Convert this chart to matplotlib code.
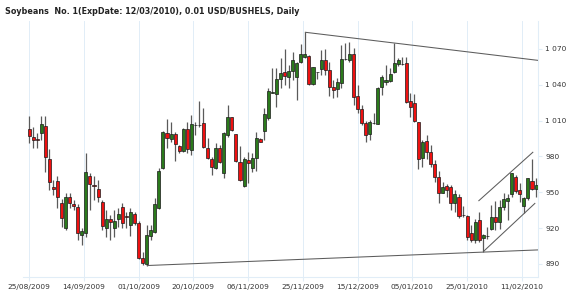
import numpy as np
import matplotlib
matplotlib.use("Agg")
import matplotlib.pyplot as plt

# daily bars (bar index 0 = 25/08/2009)
opens = [1002.7, 996.6, 994.7, 999.4, 1005.5, 977.9, 954.2, 959.2, 940.8, 920.4,
         946.4, 940.0, 937.5, 914.3, 915.7, 963.7, 956.2, 953.1, 941.6, 920.4,
         927.7, 919.9, 927.9, 938.0, 930.0, 922.7, 931.6, 924.1, 894.8, 889.8,
         913.5, 916.6, 936.6, 970.1, 999.4, 994.4, 998.6, 988.8, 984.6, 1002.8,
         985.5, 1006.4, 1006.4, 1007.8, 987.4, 977.7, 970.1, 986.9, 965.9, 998.0,
         1012.8, 998.6, 975.7, 955.6, 977.1, 970.7, 978.5, 994.4, 1001.4, 1012.0,
         1033.5, 1032.1, 1044.6, 1051.0, 1046.3, 1051.9, 1046.3, 1058.8, 1063.6, 1064.1,
         1040.7, 1050.5, 1053.0, 1060.8, 1052.4, 1037.9, 1036.5, 1041.3, 1061.6, 1060.8,
         1065.8, 1031.0, 1019.5, 1007.8, 998.6, 1007.8, 1007.3, 1037.9, 1042.1, 1043.2,
         1050.5, 1057.2, 1057.2, 1058.0, 1026.5, 1024.5, 1008.6, 978.5, 993.3, 983.5,
         974.0, 963.1, 949.7, 955.3, 954.8, 941.4, 946.4, 931.1, 930.2, 915.7,
         910.1, 926.9, 911.5, 913.5, 919.1, 929.1, 925.5, 938.0, 942.8, 948.6,
         963.1, 952.0, 938.6, 945.0, 959.8, 952.5]
highs = [1014.2, 1004.4, 999.4, 1014.2, 1014.2, 986.0, 960.3, 963.7, 944.2, 949.2,
         949.2, 943.6, 940.2, 919.9, 983.2, 965.9, 963.7, 960.3, 943.6, 935.2,
         931.0, 935.2, 936.6, 941.0, 933.9, 937.2, 933.3, 926.0, 900.4, 922.7,
         922.7, 945.0, 970.1, 1001.5, 1011.1, 1009.2, 1000.8, 989.7, 1003.6, 1009.2,
         1014.8, 1009.2, 1026.5, 1020.3, 995.2, 979.9, 991.1, 989.7, 1000.8, 1023.1,
         1013.4, 999.0, 989.1, 979.9, 984.1, 982.7, 1000.8, 995.8, 1020.3, 1037.1,
         1054.4, 1054.4, 1062.2, 1070.0, 1056.6, 1067.8, 1059.4, 1073.9, 1084.0, 1065.0,
         1055.2, 1051.0, 1069.2, 1070.0, 1059.4, 1044.1, 1045.5, 1073.4, 1074.8, 1076.2,
         1070.6, 1039.9, 1023.1, 1009.7, 1010.6, 1016.2, 1038.5, 1048.3, 1056.6, 1053.8,
         1074.8, 1062.8, 1063.6, 1063.0, 1032.9, 1032.4, 1009.2, 993.9, 998.0, 989.7,
         977.1, 968.0, 958.9, 956.7, 956.2, 952.0, 948.3, 938.6, 931.1, 922.7,
         927.4, 933.8, 915.2, 921.0, 939.4, 943.0, 943.6, 949.2, 948.6, 966.5,
         964.5, 957.6, 946.4, 962.3, 978.0, 961.7]
lows = [991.6, 986.8, 986.8, 993.8, 967.3, 952.0, 947.8, 936.6, 921.3, 918.5,
        936.6, 935.2, 910.1, 905.9, 912.9, 935.2, 943.6, 942.2, 918.5, 912.9,
        910.1, 912.3, 921.3, 920.0, 919.9, 913.8, 922.7, 894.5, 889.2, 888.7,
        910.1, 915.7, 936.1, 969.6, 986.9, 992.5, 976.3, 982.7, 983.5, 982.7,
        981.3, 998.0, 1005.0, 986.9, 977.7, 964.6, 969.6, 974.3, 961.8, 996.6,
        1001.0, 975.7, 959.5, 954.8, 957.6, 967.3, 967.9, 991.9, 993.8, 1010.6,
        1032.9, 1021.7, 1037.1, 1039.9, 1037.6, 1044.1, 1027.3, 1058.0, 1062.8, 1039.9,
        1039.9, 1045.0, 1048.3, 1048.0, 1031.0, 1028.7, 1030.1, 1037.1, 1060.8, 1059.4,
        1023.1, 1016.2, 1006.4, 992.5, 993.8, 1007.0, 1007.0, 1031.5, 1040.0, 1042.7,
        1049.6, 1056.0, 1056.6, 1024.5, 1013.4, 1009.2, 969.4, 971.5, 978.0, 971.5,
        959.0, 940.8, 949.2, 946.4, 935.2, 933.8, 928.3, 929.7, 910.1, 908.7,
        907.3, 908.7, 900.4, 911.0, 918.5, 918.5, 919.1, 935.2, 926.9, 946.4,
        949.2, 942.2, 932.4, 943.6, 952.0, 946.4]
closes = [997.2, 993.8, 993.5, 1006.9, 979.3, 958.9, 953.1, 945.8, 928.2, 946.4,
          940.8, 938.6, 915.7, 917.6, 967.3, 956.7, 955.0, 946.4, 921.8, 927.7,
          925.5, 926.3, 931.6, 924.1, 929.4, 933.3, 924.6, 895.4, 890.6, 914.3,
          918.5, 940.3, 968.2, 1000.3, 995.2, 998.6, 990.2, 984.6, 1002.8, 986.0,
          1007.5, 1006.1, 1006.6, 988.3, 978.5, 971.5, 986.9, 975.7, 1000.0, 1012.8,
          1002.2, 976.3, 960.4, 977.9, 974.3, 978.5, 995.2, 992.5, 1015.6, 1035.1,
          1033.8, 1044.6, 1050.2, 1047.7, 1051.9, 1060.8, 1058.0, 1065.5, 1065.8, 1040.7,
          1054.7, 1050.8, 1060.8, 1052.4, 1037.9, 1035.7, 1042.1, 1061.6, 1061.9, 1065.8,
          1030.1, 1019.5, 1007.8, 998.0, 1008.6, 1008.1, 1037.6, 1046.9, 1044.1, 1048.8,
          1058.0, 1060.8, 1057.5, 1025.9, 1021.7, 1010.0, 977.9, 992.5, 984.1, 973.8,
          963.2, 949.7, 954.2, 952.0, 941.4, 948.3, 930.2, 931.4, 912.9, 910.1,
          925.5, 910.1, 914.3, 913.8, 929.1, 925.5, 938.0, 944.4, 945.6, 965.9,
          951.4, 948.6, 945.0, 961.7, 952.5, 956.2]

date_labels = ["25/08/2009", "14/09/2009", "01/10/2009", "20/10/2009", "06/11/2009",
               "25/11/2009", "15/12/2009", "05/01/2010", "25/01/2010", "11/02/2010"]
price_ticks = [890, 920, 950, 980, 1010, 1040, 1070]

# hand-drawn trendlines (bar index, price)
resist_x, resist_y = [68, 125.6], [1084.0, 1060.4]
support_x, support_y = [29, 125.6], [888.7, 901.8]
chan_up_x, chan_up_y = [110.8, 124.3], [942.7, 983.8]
chan_lo_x, chan_lo_y = [112, 124.8], [900.4, 941.0]

o = np.array(opens)
h = np.array(highs)
l = np.array(lows)
c = np.array(closes)
idx = np.arange(len(o))

fig = plt.figure(figsize=(5.7, 2.97), dpi=100)
ax = fig.add_axes([0.0404, 0.0673, 0.9043, 0.862])

grid_col = "#e1edf7"
tick_pos = np.arange(len(date_labels)) * 13.5
for t in tick_pos:
    ax.axvline(t, color=grid_col, lw=0.7, zorder=0)

# wicks
ax.vlines(idx, l, h, color="#5a5a5a", lw=0.9, zorder=2)

# bodies
up = c >= o
colors = np.where(up, "#2b7a1c", "#ee1111")
ax.bar(idx, np.abs(c - o), bottom=np.minimum(o, c), width=0.75,
       color=colors, edgecolor="#1a1a1a", linewidth=0.5, zorder=3)

# trendlines
for xs, ys in [(resist_x, resist_y), (support_x, support_y),
               (chan_up_x, chan_up_y), (chan_lo_x, chan_lo_y)]:
    ax.plot(xs, ys, color="#5c5c5c", lw=0.75, zorder=4, solid_capstyle="butt")

ax.set_xlim(-1.5, 125.6)
ax.set_ylim(879.1, 1093.4)

ax.set_xticks(tick_pos)
ax.set_xticklabels(date_labels)
ax.set_yticks(price_ticks)
ax.set_yticklabels([f"{v:,}".replace(",", " ") for v in price_ticks])
ax.yaxis.tick_right()
ax.tick_params(axis="both", labelsize=5.3, colors=grid_col, labelcolor="#333333",
               length=3, width=0.8, pad=2)

for side in ["left", "top"]:
    ax.spines[side].set_visible(False)
for side in ["right", "bottom"]:
    ax.spines[side].set_color(grid_col)
    ax.spines[side].set_linewidth(0.8)

fig.text(0.009, 0.962, "Soybeans  No. 1(ExpDate: 12/03/2010), 0.01 USD/BUSHELS, Daily",
         fontsize=5.8, fontweight="bold", color="#222222", va="center", ha="left")

fig.savefig("out.png", dpi=100)
